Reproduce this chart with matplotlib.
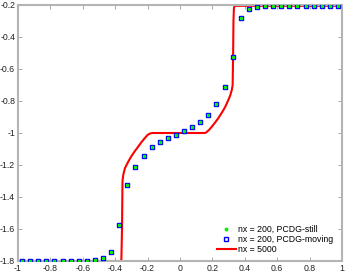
import matplotlib
matplotlib.use('Agg')
import matplotlib.pyplot as plt

plt.rcParams['font.family'] = ['Liberation Sans', 'DejaVu Sans']
plt.rcParams['axes.unicode_minus'] = False

# nx = 200 solutions (sampled points)
x_pts = [-0.975, -0.925, -0.875, -0.825, -0.775, -0.725, -0.675, -0.625, -0.575, -0.525,
         -0.475, -0.425, -0.375, -0.325, -0.275, -0.225, -0.175, -0.125, -0.075, -0.025,
         0.025, 0.075, 0.125, 0.175, 0.225, 0.275, 0.325, 0.375, 0.425, 0.475,
         0.525, 0.575, 0.625, 0.675, 0.725, 0.775, 0.825, 0.875, 0.925, 0.975]
y_still = [-1.8, -1.8, -1.8, -1.8, -1.8, -1.8, -1.8, -1.8, -1.799, -1.793,
           -1.783, -1.744, -1.577, -1.325, -1.21, -1.142, -1.09, -1.054, -1.031, -1.01,
           -0.988, -0.963, -0.931, -0.886, -0.819, -0.714, -0.523, -0.283, -0.227, -0.21,
           -0.205, -0.205, -0.205, -0.205, -0.205, -0.205, -0.205, -0.205, -0.205, -0.205]
# moving-mesh result overlaps the still one at this resolution
y_moving = [-1.8, -1.8, -1.8, -1.8, -1.8, -1.8, -1.8, -1.8, -1.799, -1.793,
            -1.783, -1.744, -1.577, -1.325, -1.21, -1.142, -1.09, -1.054, -1.031, -1.01,
            -0.988, -0.963, -0.931, -0.886, -0.819, -0.714, -0.523, -0.283, -0.227, -0.21,
            -0.205, -0.205, -0.205, -0.205, -0.205, -0.205, -0.205, -0.205, -0.205, -0.205]

# nx = 5000 reference curve
x_ref = [-1.0, -0.37, -0.362, -0.358, -0.355, -0.35, -0.34, -0.32, -0.30, -0.28, -0.26,
         -0.24, -0.22, -0.20, -0.185, -0.17, 0.0, 0.15, 0.16, 0.18, 0.20, 0.22,
         0.24, 0.26, 0.28, 0.30, 0.31, 0.32, 0.325, 0.328, 0.33, 0.333, 0.34, 1.0]
y_ref = [-1.8, -1.8, -1.795, -1.6, -1.30, -1.26, -1.22, -1.18, -1.145, -1.115, -1.088,
         -1.06, -1.035, -1.012, -1.003, -1.0, -1.0, -1.0, -0.998, -0.98, -0.956, -0.93,
         -0.902, -0.87, -0.835, -0.79, -0.765, -0.73, -0.70, -0.5, -0.3, -0.215, -0.205, -0.205]

xticks = [-1, -0.8, -0.6, -0.4, -0.2, 0, 0.2, 0.4, 0.6, 0.8, 1]
yticks = [-1.8, -1.6, -1.4, -1.2, -1, -0.8, -0.6, -0.4, -0.2]

fig = plt.figure(figsize=(3.49, 2.74), dpi=100)
ax = fig.add_axes([18/349, 13/274, 324/349, 256/274])

ax.plot(x_pts, y_still, 'o', color='#00ee00', markersize=2.5, markeredgewidth=0,
        label='nx = 200, PCDG-still', zorder=4)
ax.plot(x_pts, y_moving, 's', color='#0000ff', markerfacecolor='none', markersize=3.2,
        markeredgewidth=1.0, label='nx = 200, PCDG-moving', zorder=3)
ax.plot(x_ref, y_ref, '-', color='#ff0000', linewidth=1.5, label='nx = 5000', zorder=2)

ax.set_xlim(-1, 1)
ax.set_ylim(-1.8, -0.2)
ax.set_xticks(xticks)
ax.set_yticks(yticks)
ax.set_xticklabels(['%g' % t for t in xticks])
ax.set_yticklabels(['%g' % t for t in yticks])

for s in ax.spines.values():
    s.set_color('#b4b4b4')
    s.set_linewidth(1.5)
ax.tick_params(direction='in', length=3, width=0.6, color='#999999', labelsize=6.3,
               labelcolor='#222222', top=True, right=True, pad=2)

leg = ax.legend(loc='lower right', bbox_to_anchor=(0.995, 0.0), frameon=False,
                fontsize=6.3, handlelength=2.1, handletextpad=0.3, labelspacing=0.12,
                borderaxespad=0.4, markerscale=1.1)

fig.savefig('out.png', dpi=100)
